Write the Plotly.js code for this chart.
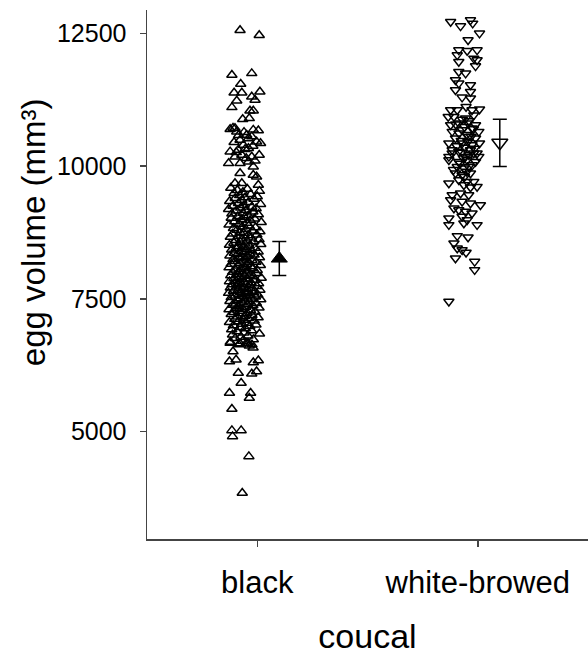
<!DOCTYPE html>
<html>
<head>
<meta charset="utf-8">
<script src="https://cdn.plot.ly/plotly-3.0.1.min.js"></script>
<style>html,body{margin:0;padding:0;background:#fff;}#chart{width:588px;height:657px;}</style>
</head>
<body>
<div id="chart"></div>
<script>
// categories
const categories = ['black', 'white-browed'];

// black coucal egg volumes (mm3) and horizontal jitter (category units)
const blackVolume = [
  12560,12466,11715,11747,11546,11382,11382,11400,11307,11245,
  11232,11107,11044,11044,10882,10900,10695,10714,10650,10683,
  10670,10587,10556,10493,10461,10399,10430,10273,10305,10336,
  10210,10178,10210,10178,10053,10053,10084,9990,9865,9834,
  9800,9678,9678,9646,
  10720,10640,10580,10520,10450,10380,10320,10260,10150,10100,
  9590,9570,9545,9530,9510,9490,9470,9450,9430,9410,
  9395,9380,9360,9340,9320,9300,9285,9265,9250,9230,
  9215,9205,9190,9175,9160,9140,9120,9105,9090,9070,
  9055,9040,9025,9010,8995,8980,8960,8945,8930,8910,
  8895,8880,8860,8845,8830,8815,8800,8785,8770,8755,
  8740,8725,8710,8695,8680,8665,8650,8635,8620,8605,
  8595,8580,8570,8555,8540,8530,8515,8500,8490,8475,
  8460,8450,8435,8425,8410,8400,8390,8375,8365,8350,
  8340,8330,8315,8305,8290,8280,8270,8255,8245,8230,
  8220,8210,8195,8185,8170,8160,8150,8135,8125,8110,
  8100,8090,8075,8065,8050,8040,8030,8015,8005,7995,
  7985,7975,7965,7950,7940,7930,7920,7905,7895,7885,
  7875,7865,7855,7840,7830,7820,7810,7800,7790,7780,
  7770,7760,7750,7740,7730,7720,7710,7700,7690,7680,
  7670,7660,7650,7640,7630,7620,7610,7600,7590,7580,
  7570,7560,7550,7540,7530,7520,7510,7500,7490,7480,
  7465,7455,7445,7430,7420,7410,7395,7385,7375,7360,
  7350,7335,7325,7310,7300,7285,7275,7260,7250,7235,
  7225,7210,7195,7180,7165,7150,7135,7120,7105,7090,
  7075,7060,7045,7030,7015,7000,6985,6965,6945,6925,
  6905,6885,6865,6845,6825,6805,6785,6760,6735,6710,
  6690,6665,6640,6620,
  6668,6660,6670,6640,6510,6580,6322,6354,6303,6341,
  6104,6091,6134,5916,5728,5728,5634,5427,5025,5025,
  4912,4535,3847
];
const blackJitter = [
  -0.078,0.009,-0.115,-0.025,-0.075,-0.105,-0.070,0.012,-0.025,-0.010,
  -0.093,-0.115,-0.033,-0.018,-0.066,-0.036,-0.123,-0.101,-0.093,-0.018,
  0.005,-0.048,-0.025,-0.078,-0.003,-0.063,0.015,-0.123,-0.086,-0.040,
  0.009,-0.101,-0.070,-0.025,-0.130,-0.078,-0.040,-0.018,-0.078,-0.018,
  -0.003,-0.101,-0.070,0.005,
  -0.110,-0.060,-0.085,-0.040,-0.105,-0.020,-0.055,-0.095,-0.050,-0.010,
  -0.120,-0.045,-0.090,0.010,-0.065,-0.105,-0.030,-0.080,0.000,-0.055,
  -0.100,-0.015,-0.070,-0.125,-0.040,-0.085,0.015,-0.060,-0.110,-0.025,
  -0.075,-0.005,-0.130,-0.050,-0.095,-0.020,-0.065,-0.115,0.005,-0.040,
  -0.088,-0.058,-0.118,-0.012,-0.072,-0.032,-0.102,0.018,-0.048,-0.082,
  -0.128,-0.038,-0.068,-0.008,-0.108,-0.052,-0.092,-0.022,0.012,-0.078,
  -0.062,-0.112,-0.002,-0.042,-0.086,-0.122,-0.028,-0.070,0.008,-0.098,
  -0.046,-0.016,-0.076,-0.106,-0.056,0.016,-0.126,-0.036,-0.084,-0.066,
  -0.010,-0.096,-0.050,-0.116,-0.026,-0.074,0.004,-0.060,-0.104,-0.034,
  -0.090,-0.014,-0.124,-0.044,-0.068,0.010,-0.082,-0.054,-0.110,-0.024,
  -0.064,-0.100,-0.006,-0.038,-0.078,-0.118,-0.048,0.014,-0.088,-0.030,
  -0.058,-0.128,-0.020,-0.072,-0.098,0.000,-0.042,-0.084,-0.112,-0.052,
  -0.004,-0.066,-0.092,-0.034,-0.120,-0.056,-0.018,-0.080,0.018,-0.106,
  -0.044,-0.070,-0.012,-0.096,-0.126,-0.060,-0.028,-0.086,0.006,-0.050,
  -0.114,-0.036,-0.076,-0.002,-0.094,-0.062,-0.122,-0.022,-0.068,-0.046,
  0.012,-0.088,-0.108,-0.040,-0.074,-0.016,-0.130,-0.054,-0.082,0.002,
  -0.032,-0.100,-0.064,-0.008,-0.118,-0.048,-0.078,-0.026,0.016,-0.090,
  -0.058,-0.124,-0.036,-0.070,-0.004,-0.098,-0.044,-0.112,-0.020,-0.084,
  -0.052,0.008,-0.094,-0.066,-0.128,-0.030,-0.080,-0.010,-0.106,-0.046,
  -0.072,-0.118,-0.024,-0.056,-0.090,0.004,-0.040,-0.102,-0.062,-0.014,
  -0.086,-0.126,-0.048,-0.070,-0.006,-0.108,-0.034,-0.078,-0.054,-0.116,
  -0.026,-0.092,-0.060,0.010,-0.112,-0.042,-0.074,-0.100,-0.018,-0.066,
  -0.122,-0.050,-0.084,-0.036,
  -0.123,-0.078,-0.042,-0.024,-0.110,-0.019,-0.126,-0.096,-0.018,0.005,
  -0.086,-0.025,-0.003,-0.073,-0.126,-0.030,-0.036,-0.115,-0.115,-0.073,
  -0.112,-0.038,-0.068
];

// white-browed coucal egg volumes (mm3) and horizontal jitter
const whiteVolume = [
  12718,12637,12750,12688,12500,12374,12185,12172,12185,12091,
  12029,12000,11965,11884,11777,11747,11621,11559,11527,11433,
  11401,11295,11277,11119,11057,11057,11057,11070,10931,10931,
  10960,10900,10775,10810,10810,10775,10712,10650,10680,10650,
  10524,10555,10524,10430,10430,10400,10430,10305,10275,10305,
  10242,10179,10179,
  10242,10255,10242,10179,10116,10084,10116,10084,9990,9959,
  9990,9865,9834,9865,9740,9708,9708,9678,9646,9614,
  9602,9457,9489,9457,9364,9333,9301,9270,9208,9176,
  9145,9113,9020,9051,8988,8894,8894,8925,8687,8662,
  8549,8455,8423,8373,8267,8203,8047,7451,
  10880,10850,10790,10740,10700,10620,10590,10560,10480,10460,
  10380,10350,10330,10210,10150,10050,10020,9930,9900,9800
];
const whiteJitter = [
  -0.123,-0.078,-0.033,-0.023,0.008,-0.044,-0.086,-0.048,-0.003,-0.093,
  -0.018,-0.003,-0.086,-0.010,-0.086,-0.055,-0.101,-0.086,-0.033,-0.101,
  -0.033,-0.071,-0.033,-0.053,-0.123,-0.093,-0.026,0.008,-0.134,-0.108,
  -0.018,-0.055,-0.123,-0.086,-0.044,-0.010,-0.026,-0.116,-0.071,0.005,
  -0.101,-0.041,-0.010,-0.131,-0.071,-0.026,0.008,-0.116,-0.086,-0.033,
  -0.003,-0.131,-0.055,
  -0.116,-0.071,-0.018,0.005,-0.131,-0.086,-0.048,-0.010,-0.093,-0.063,
  -0.041,-0.101,-0.071,-0.033,-0.086,-0.048,-0.018,-0.131,-0.063,-0.003,
  -0.033,-0.116,-0.078,-0.041,-0.123,-0.071,-0.033,0.012,-0.108,-0.086,
  -0.055,-0.026,-0.131,-0.071,-0.048,-0.131,-0.003,-0.063,-0.093,-0.044,
  -0.108,-0.093,-0.071,-0.053,-0.101,-0.014,-0.014,-0.131,
  -0.070,-0.040,-0.100,-0.060,-0.020,-0.085,-0.050,-0.030,-0.075,-0.045,
  -0.095,-0.060,-0.015,-0.040,-0.065,-0.080,-0.025,-0.110,-0.050,-0.060
];

// group means and error-bar half-widths
const groupMeans = [8260, 10440];
const groupErrors = [320, 445];
const meanOffset = 0.1;

const tickVals = [0, 1];
const yTickVals = [5000, 7500, 10000, 12500];
const yTickText = ['5000', '7500', '10000', '12500'];

const font = 'Liberation Sans, Arial, Helvetica, sans-serif';

const traces = [
  {
    type: 'scatter', mode: 'markers',
    x: blackVolume.map((v, i) => 0 + blackJitter[i]),
    y: blackVolume,
    marker: {symbol: 'triangle-up-open', size: 9, color: '#000', line: {width: 1.5, color: '#000'}},
    hoverinfo: 'y', showlegend: false
  },
  {
    type: 'scatter', mode: 'markers',
    x: whiteVolume.map((v, i) => 1 + whiteJitter[i]),
    y: whiteVolume,
    marker: {symbol: 'triangle-down-open', size: 9, color: '#000', line: {width: 1.5, color: '#000'}},
    hoverinfo: 'y', showlegend: false
  },
  {
    type: 'scatter', mode: 'markers',
    x: [0 + meanOffset], y: [groupMeans[0]],
    error_y: {type: 'data', array: [groupErrors[0]], visible: true, color: '#000', thickness: 1.5, width: 7},
    marker: {symbol: 'triangle-up', size: 14, color: '#000', line: {width: 1, color: '#000'}},
    showlegend: false
  },
  {
    type: 'scatter', mode: 'markers',
    x: [1 + meanOffset], y: [groupMeans[1]],
    error_y: {type: 'data', array: [groupErrors[1]], visible: true, color: '#000', thickness: 1.5, width: 7},
    marker: {symbol: 'triangle-down-open', size: 14, color: '#000', line: {width: 1.5, color: '#000'}},
    showlegend: false
  }
];

const layout = {
  width: 588, height: 657,
  margin: {l: 147, r: 0, t: 10, b: 118},
  paper_bgcolor: '#fff', plot_bgcolor: '#fff',
  font: {family: font, color: '#000'},
  showlegend: false,
  xaxis: {
    range: [-0.5, 1.5],
    tickvals: tickVals, ticktext: categories,
    showline: true, linecolor: '#444', linewidth: 1.5,
    ticks: 'outside', ticklen: 6, tickwidth: 1.5, tickcolor: '#444',
    showgrid: false, zeroline: false,
    tickfont: {size: 31, family: font},
    ticklabelstandoff: 9,
    title: {text: 'coucal', font: {size: 34, family: font}, standoff: 25}
  },
  yaxis: {
    range: [2980, 12940],
    tickvals: yTickVals, ticktext: yTickText,
    showline: true, linecolor: '#444', linewidth: 1.5,
    ticks: 'outside', ticklen: 6, tickwidth: 1.5, tickcolor: '#444',
    showgrid: false, zeroline: false,
    tickfont: {size: 25, family: font},
    ticklabelstandoff: 8
  },
  annotations: [{
    text: 'egg volume (mm³)',
    textangle: -90,
    xref: 'paper', yref: 'paper',
    x: -0.2585, y: 0.58,
    xanchor: 'center', yanchor: 'middle',
    showarrow: false,
    font: {size: 33, family: font, color: '#000'}
  }]
};

Plotly.newPlot('chart', traces, layout, {displayModeBar: false, staticPlot: true});
</script>
</body>
</html>
